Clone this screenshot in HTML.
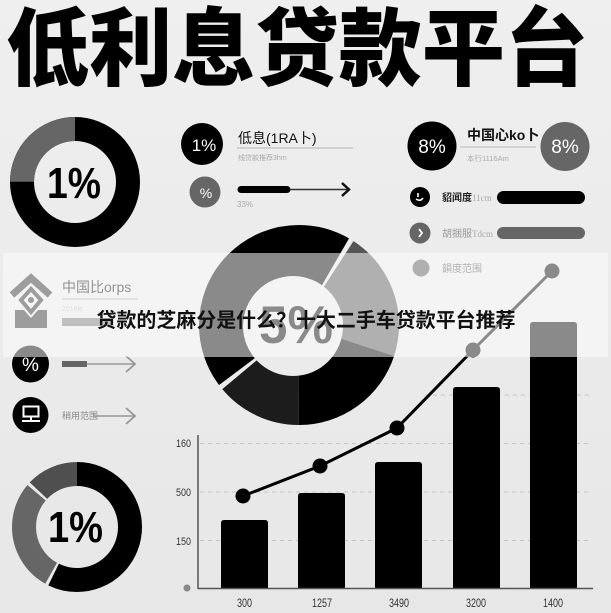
<!DOCTYPE html>
<html>
<head>
<meta charset="utf-8">
<style>
html,body{margin:0;padding:0;background:#ebebeb;overflow:hidden;}
svg{display:block;font-family:"Liberation Sans","Noto Sans CJK SC",sans-serif;}
.cjk{font-family:"Liberation Sans","Noto Sans CJK SC",sans-serif;}
</style>
</head>
<body>
<svg width="611" height="613" viewBox="0 0 611 613" xmlns="http://www.w3.org/2000/svg">
<defs>
<linearGradient id="bg" x1="0" y1="0" x2="0" y2="1">
<stop offset="0" stop-color="#efefef"/>
<stop offset="1" stop-color="#e7e7e7"/>
</linearGradient>
</defs>
<rect width="611" height="613" fill="url(#bg)"/>

<!-- Title -->
<text class="cjk" x="6" y="79" font-size="85" font-weight="900" fill="#000" textLength="582" lengthAdjust="spacingAndGlyphs">低利息贷款平台</text>

<!-- Top-left donut -->
<circle cx="75" cy="182" r="53" fill="none" stroke="#000" stroke-width="24"/>
<circle cx="75" cy="182" r="53" fill="none" stroke="#666" stroke-width="24" stroke-dasharray="83.25 400" stroke-dashoffset="-249.76" transform="rotate(-90 75 182)"/>
<text x="74" y="198" font-size="44" font-weight="bold" text-anchor="middle" textLength="54" lengthAdjust="spacingAndGlyphs" fill="#000">1%</text>

<!-- Row 1 -->
<circle cx="202" cy="144" r="21" fill="#000"/>
<text x="204" y="151" fill="#fff" font-size="17" text-anchor="middle">1%</text>
<text class="cjk" x="238" y="143" font-size="14" fill="#111">低息(1RA卜)</text>
<line x1="237" y1="148" x2="353" y2="148" stroke="#b5b5b5" stroke-width="1"/>
<text class="cjk" x="238" y="160" font-size="7" fill="#aaa">线贷款推荐3hm</text>

<!-- Row 2 -->
<circle cx="205" cy="192" r="15.5" fill="#666"/>
<text x="206" y="198" fill="#fff" font-size="14" text-anchor="middle">%</text>
<line x1="241" y1="189.5" x2="287" y2="189.5" stroke="#000" stroke-width="7" stroke-linecap="round"/>
<line x1="290" y1="189.5" x2="349" y2="189.5" stroke="#333" stroke-width="1.5"/>
<polyline points="342,183 349,189.5 342,196" fill="none" stroke="#111" stroke-width="2.5"/>
<text x="237" y="207" font-size="8" fill="#aaa">33%</text>

<!-- Top right -->
<circle cx="432" cy="146" r="24.5" fill="#000"/>
<text x="432" y="153" fill="#fff" font-size="19" text-anchor="middle">8%</text>
<text class="cjk" x="467" y="140" font-size="14" font-weight="bold" fill="#111">中国心ko卜</text>
<line x1="460" y1="147" x2="536" y2="147" stroke="#b5b5b5" stroke-width="1"/>
<text x="467" y="161" font-size="7.5" fill="#aaa">本行1116Am</text>
<circle cx="565" cy="146.5" r="24.5" fill="#666"/>
<text x="565" y="153" fill="#fff" font-size="19" text-anchor="middle">8%</text>

<!-- Right rows -->
<circle cx="420" cy="197" r="10" fill="#000"/>
<path d="M418,193 v4 M416,199 q4,3 7,-1" stroke="#fff" stroke-width="1.6" fill="none"/>
<text class="cjk" x="442" y="201" font-size="10" font-weight="bold" fill="#222">貂闻度</text>
<text x="472" y="201" font-size="9" fill="#aaa" font-family="Liberation Serif, serif">11cm</text>
<rect x="497" y="191" width="88" height="13" rx="6.5" fill="#000"/>

<circle cx="420" cy="233" r="10.5" fill="#666"/>
<path d="M419,229 l3,4 l-3,4" stroke="#fff" stroke-width="1.8" fill="none"/>
<text class="cjk" x="442" y="237" font-size="10" fill="#9a9a9a">胡捆服</text>
<text x="472" y="237" font-size="9" fill="#aaa" font-family="Liberation Serif, serif">Tdcm</text>
<rect x="497" y="227" width="88" height="12" rx="6" fill="#666"/>

<circle cx="421" cy="268" r="8.5" fill="#555"/>
<text class="cjk" x="442" y="272" font-size="10" fill="#555">韻度范围</text>

<!-- Big donut (r 44..100, hole cut off-centre) -->
<g transform="rotate(-90 299 325)" fill="none" stroke-width="56">
<circle cx="299" cy="325" r="72" stroke="#000" stroke-dasharray="159.59 600" stroke-dashoffset="-292.79"/>
<circle cx="299" cy="325" r="72" stroke="#000" stroke-dasharray="37.70 600" stroke-dashoffset="0"/>
<circle cx="299" cy="325" r="72" stroke="#555" stroke-dasharray="94.25 600" stroke-dashoffset="-41.47"/>
<circle cx="299" cy="325" r="72" stroke="#000" stroke-dasharray="90.48 600" stroke-dashoffset="-135.72"/>
<circle cx="299" cy="325" r="72" stroke="#1c1c1c" stroke-dasharray="62.83 600" stroke-dashoffset="-226.19"/>
</g>
<circle cx="293" cy="326" r="50" fill="#ebebeb"/>
<text x="259" y="343" font-size="53" font-weight="bold" fill="#000" textLength="74" lengthAdjust="spacingAndGlyphs">5%</text>

<!-- Middle left -->
<path d="M12,295 L31,278 L50,295" fill="none" stroke="#2a2a2a" stroke-width="7"/>
<path d="M31,289 L41,300 L31,312 L21,300 Z" fill="#f0f0f0" stroke="#2a2a2a" stroke-width="4"/>
<circle cx="31" cy="300" r="3" fill="#2a2a2a"/>
<path d="M15,310 L24,310 L31,318 L38,310 L47,310 L47,328 L15,328 Z" fill="#2a2a2a"/>
<text class="cjk" x="62" y="292" font-size="14" fill="#111">中国比orps</text>
<line x1="62" y1="299" x2="138" y2="299" stroke="#a2a2a2" stroke-width="1.2"/>
<text x="62" y="311" font-size="7" fill="#bbb">2016le</text>
<rect x="62" y="318" width="48" height="8" fill="#777"/>

<circle cx="30.5" cy="364" r="18.5" fill="#000"/>
<text x="30.5" y="371" fill="#fff" font-size="19" text-anchor="middle">%</text>
<rect x="62" y="361" width="25" height="6" fill="#666"/>
<line x1="87" y1="364" x2="135" y2="364" stroke="#999" stroke-width="1.5"/>
<polyline points="126,356 135,364 126,372" fill="none" stroke="#999" stroke-width="1.8"/>

<circle cx="30.5" cy="415" r="18" fill="#000"/>
<rect x="23.5" y="406.5" width="15" height="10" fill="none" stroke="#fff" stroke-width="2"/>
<line x1="22" y1="421" x2="40" y2="421" stroke="#fff" stroke-width="2"/>
<line x1="31" y1="417" x2="31" y2="421" stroke="#fff" stroke-width="2"/>
<text class="cjk" x="62" y="419" font-size="9" fill="#888">稍用范围</text>
<line x1="93" y1="416" x2="135" y2="416" stroke="#999" stroke-width="1.5"/>
<polyline points="126,408 135,416 126,424" fill="none" stroke="#999" stroke-width="1.8"/>

<!-- Bottom-left donut -->
<g transform="rotate(-90 77 527)" fill="none" stroke-width="24">
<circle cx="77" cy="527" r="53" stroke="#000" stroke-dasharray="190.56 400" stroke-dashoffset="0"/>
<circle cx="77" cy="527" r="53" stroke="#666" stroke-dasharray="93.43 400" stroke-dashoffset="-193.33"/>
<circle cx="77" cy="527" r="53" stroke="#4f4f4f" stroke-dasharray="43.48 400" stroke-dashoffset="-289.54"/>
</g>
<text x="48" y="542" font-size="44" font-weight="bold" textLength="55" lengthAdjust="spacingAndGlyphs" fill="#000">1%</text>

<!-- Chart grid -->
<g stroke="#c4c4c4" stroke-width="1" stroke-dasharray="4 4">
<line x1="425" y1="395" x2="592" y2="395"/>
<line x1="200" y1="443.5" x2="592" y2="443.5"/>
<line x1="200" y1="492" x2="592" y2="492"/>
<line x1="200" y1="540.5" x2="592" y2="540.5"/>
</g>

<!-- Bars -->
<g fill="#000">
<path d="M221,588 V523 Q221,520 224,520 H265 Q268,520 268,523 V588 Z"/>
<path d="M298,588 V496 Q298,493 301,493 H342 Q345,493 345,496 V588 Z"/>
<path d="M375,588 V465 Q375,462 378,462 H419 Q422,462 422,465 V588 Z"/>
<path d="M453,588 V390 Q453,387 456,387 H497 Q500,387 500,390 V588 Z"/>
<path d="M530,588 V325 Q530,322 533,322 H574 Q577,322 577,325 V588 Z"/>
</g>

<!-- Axes -->
<line x1="198" y1="435" x2="198" y2="589" stroke="#555" stroke-width="1.5"/>
<line x1="198" y1="588.5" x2="593" y2="588.5" stroke="#555" stroke-width="1.5"/>
<circle cx="187" cy="588" r="3.5" fill="#888"/>

<!-- Line series -->
<polyline points="243,496 320,466 397,428 473,350 552,271" fill="none" stroke="#000" stroke-width="3"/>
<g fill="#000">
<circle cx="243" cy="496" r="7.5"/>
<circle cx="320" cy="466" r="7.5"/>
<circle cx="397" cy="428" r="7.5"/>
<circle cx="473" cy="350" r="7.5"/>
<circle cx="552" cy="271" r="7.5"/>
</g>

<!-- Axis labels -->
<g font-size="11" fill="#333" text-anchor="end">
<text x="191" y="447" textLength="15" lengthAdjust="spacingAndGlyphs">160</text>
<text x="191" y="496" textLength="15" lengthAdjust="spacingAndGlyphs">500</text>
<text x="191" y="545" textLength="15" lengthAdjust="spacingAndGlyphs">150</text>
</g>
<g font-size="12" fill="#333" text-anchor="middle">
<text x="244.5" y="607" textLength="15" lengthAdjust="spacingAndGlyphs">300</text>
<text x="322" y="607" textLength="20" lengthAdjust="spacingAndGlyphs">1257</text>
<text x="399" y="607" textLength="20" lengthAdjust="spacingAndGlyphs">3490</text>
<text x="476" y="607" textLength="20" lengthAdjust="spacingAndGlyphs">3200</text>
<text x="553" y="607" textLength="20" lengthAdjust="spacingAndGlyphs">1400</text>
</g>

<!-- Overlay band -->
<rect x="3" y="253" width="605" height="104" fill="#fbfbfb" fill-opacity="0.55"/>
<text class="cjk" x="306" y="327" text-anchor="middle" font-size="20" font-weight="bold" fill="#111" textLength="419" lengthAdjust="spacingAndGlyphs">贷款的芝麻分是什么？十大二手车贷款平台推荐</text>
</svg>
</body>
</html>
